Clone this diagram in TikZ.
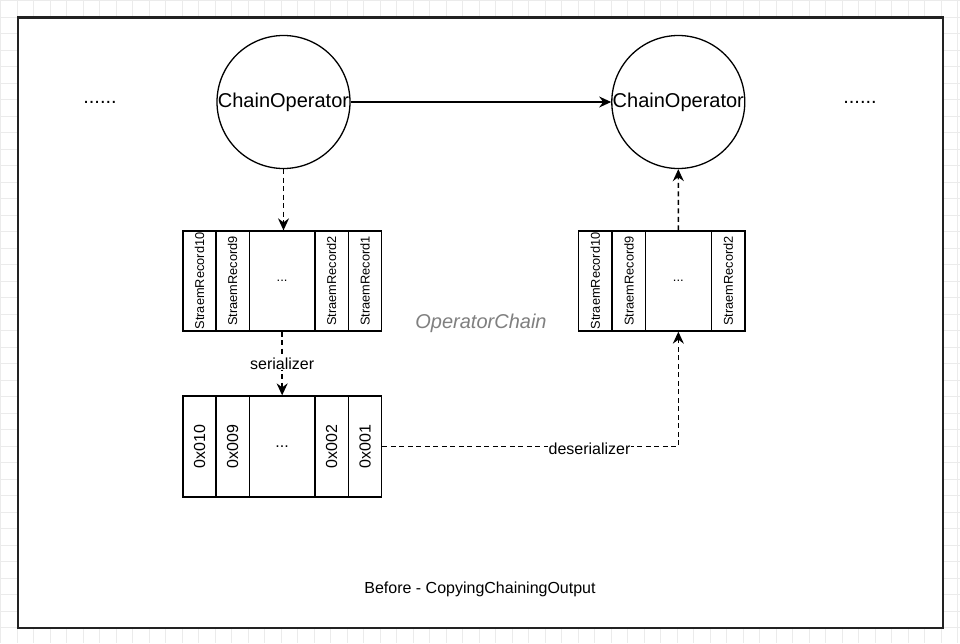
\documentclass[tikz,border=0pt]{standalone}
\usepackage{fontspec}
\setmainfont{Liberation Sans}
\usetikzlibrary{arrows.meta}
\definecolor{gridc}{HTML}{EBEBEB}
\definecolor{framec}{HTML}{222222}
\definecolor{labgray}{HTML}{808080}
\tikzset{
  gridline/.style={draw=gridc, line width=0.8pt},
  frame/.style={draw=framec, line width=2.2pt, fill=white},
  circ/.style={circle, draw, line width=1.3pt, minimum size=133pt, inner sep=0pt, font=\fontsize{20}{24}\selectfont},
  cellbase/.style={draw, line width=1.3pt, inner sep=1pt},
  reccell/.style={cellbase, rotate=90, minimum height=33.3pt, font=\fontsize{12.8}{14}\selectfont},
  hexcell/.style={cellbase, rotate=90, minimum height=33.3pt, font=\fontsize{16}{18}\selectfont},
  dotcell/.style={cellbase, minimum width=65.7pt},
  solidarrow/.style={line width=1.4pt, -{Stealth[length=12pt,width=11pt,inset=4pt]}},
  dasharrow/.style={solidarrow, dash pattern=on 5pt off 3.5pt},
  lab/.style={font=\fontsize{16}{18}\selectfont, fill=white, inner sep=1pt},
  bigtxt/.style={font=\fontsize{20}{24}\selectfont},
}
\begin{document}
\begin{tikzpicture}[x=1pt,y=-1pt]
\useasboundingbox (0,0) rectangle (960,643);
% background grid
\foreach \i in {0,...,58} {\draw[gridline] ({0.8+16.5*\i},0) -- ({0.8+16.5*\i},643);}
\foreach \j in {0,...,39} {\draw[gridline] (0,{0.8+16.5*\j}) -- (960,{0.8+16.5*\j});}
% frame
\draw[frame] (18,17.5) rectangle (943,628);

% operators
\node[circ] (c1) at (283.5,102) {ChainOperator};
\node[circ] (c2) at (678.3,102) {ChainOperator};
\node[bigtxt] (dl) at (100,102) {......};
\node[bigtxt] (dr) at (860,102) {......};

% left record group
\node[reccell, minimum width=100pt] (l1) at (199.65,281) {StraemRecord10};
\node[reccell, minimum width=100pt] (l2) at (232.65,281) {StraemRecord9};
\node[dotcell, minimum height=100pt, font=\fontsize{13}{14}\selectfont] (lm) at (282.15,281) {...};
\node[reccell, minimum width=100pt] (l4) at (331.65,281) {StraemRecord2};
\node[reccell, minimum width=100pt] (l5) at (365,281) {StraemRecord1};

% right record group
\node[reccell, minimum width=100pt] (r1) at (595.3,281) {StraemRecord10};
\node[reccell, minimum width=100pt] (r2) at (629,281) {StraemRecord9};
\node[dotcell, minimum height=100pt, font=\fontsize{13}{14}\selectfont] (rm) at (678.35,281) {...};
\node[reccell, minimum width=100pt] (r4) at (728.35,281) {StraemRecord2};

% serialized bytes
\node[hexcell, minimum width=101pt] (h1) at (199.65,446.5) {0x010};
\node[hexcell, minimum width=101pt] (h2) at (232.65,446.5) {0x009};
\node[dotcell, minimum height=101pt, font=\fontsize{16}{18}\selectfont] (hm) at (282.15,446.5) {...};
\node[hexcell, minimum width=101pt] (h4) at (331.65,446.5) {0x002};
\node[hexcell, minimum width=101pt] (h5) at (365,446.5) {0x001};

% texts
\node[font=\fontsize{20}{24}\selectfont\itshape, text=labgray] (oc) at (481,323) {OperatorChain};
\node[font=\fontsize{16}{18}\selectfont] (cap) at (480,589) {Before - CopyingChainingOutput};

% connectors
\draw[solidarrow] (c1.east) -- (c2.west);
\draw[dasharrow] (c1.south) -- (c1.south |- lm.north);
\draw[dasharrow] (lm.south) -- node[lab, midway] {serializer} (hm.north);
\coordinate (k) at (rm.south |- h5.south);
\draw[dasharrow] (h5.south) -- node[lab, pos=0.7, yshift=-2pt] {deserializer} (k) -- (rm.south);
\draw[dasharrow] (rm.north) -- (c2.south);
\end{tikzpicture}
\end{document}
